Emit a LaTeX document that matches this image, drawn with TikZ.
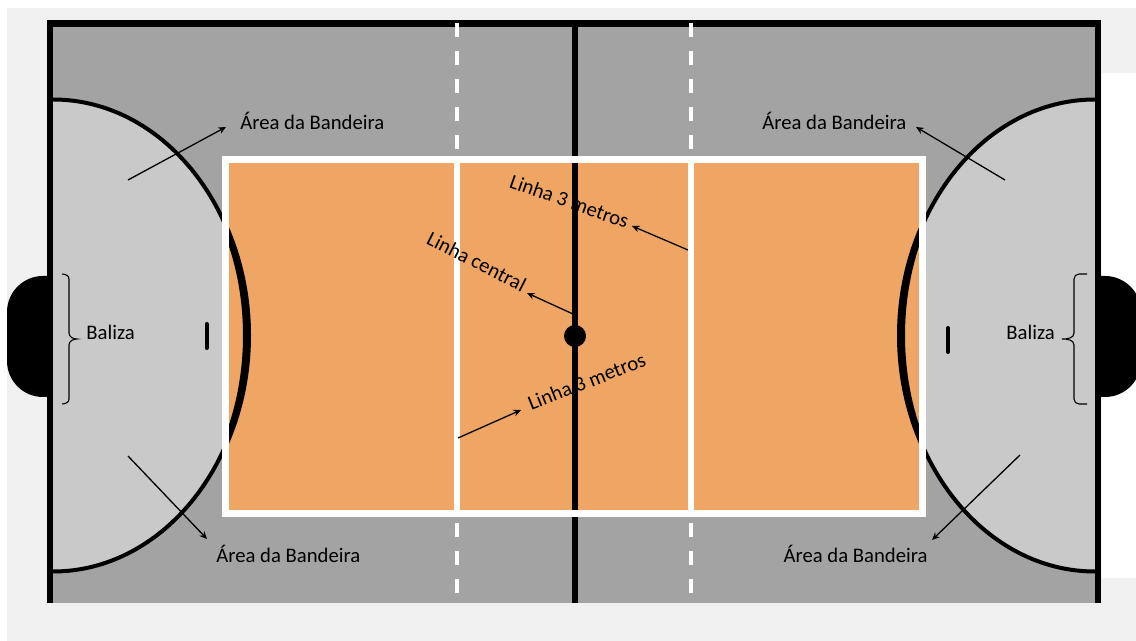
\documentclass[tikz,border=0pt]{standalone}
\usepackage{fontspec}
\setmainfont{Carlito}
\usetikzlibrary{arrows.meta}
\definecolor{bgl}{HTML}{F0F0F0}
\definecolor{court}{HTML}{A3A3A3}
\definecolor{dzone}{HTML}{C9C9C9}
\definecolor{orng}{RGB}{239,165,100}
\begin{document}
\begin{tikzpicture}[x=0.5pt,y=-0.5pt,
  lbl/.style={font=\fontsize{10.35pt}{12pt}\selectfont, inner sep=0pt, text=black},
  pointer/.style={line width=0.65pt, -{Stealth[length=3.8pt,width=3.4pt]}},
  bracepath/.style={line width=0.55pt},
  dashline/.style={white, line width=1.65pt, dash pattern=on 7pt off 7pt},
  dzoneline/.style={fill=dzone, draw=black, line width=2pt},
]
\useasboundingbox (0,0) rectangle (1136,641);
\clip (0,0) rectangle (1136,641);
\fill[white] (0,0) rectangle (1136,641);
\fill[bgl] (7,8) rectangle (1136,641);
\fill[white] (1102,73) rectangle (1136,578);
% goals
\fill[black, rounded corners=18pt] (7,276) rectangle (95,397);
\fill[black, rounded corners=18pt] (1053,276) rectangle (1141,397);
% court
\fill[court] (50,23) rectangle (1098,603);
\begin{scope}
  \clip (53,27) rectangle (1095,603);
  \filldraw[dzoneline] (53,335.5) ellipse [x radius=97.5pt, y radius=118pt];
  \filldraw[dzoneline] (1095,335.5) ellipse [x radius=97.5pt, y radius=118pt];
\end{scope}
% orange playing area
\fill[orng] (225.5,159.5) rectangle (922.5,513.5);
% centre line
\draw[black, line width=3pt] (575,23) -- (575,603);
% crescents inside orange area
\begin{scope}
  \clip (229,163) rectangle (919,510);
  \fill[black, even odd rule] (53,335.5) ellipse [x radius=99pt, y radius=118pt]
                              (53,335.5) ellipse [x radius=95pt, y radius=118pt];
  \fill[black, even odd rule] (1095,335.5) ellipse [x radius=99pt, y radius=118pt]
                              (1095,335.5) ellipse [x radius=95pt, y radius=118pt];
\end{scope}
% white lines
\draw[white, line width=3.25pt] (225.5,159.5) rectangle (922.5,513.5);
\draw[white, line width=3pt] (457,159.5) -- (457,513.5);
\draw[white, line width=3pt] (691,159.5) -- (691,513.5);
% border
\draw[black, line width=3.25pt, line join=miter] (50,603) -- (50,23.5) -- (1098,23.5) -- (1098,603);
% dashed lines
\draw[dashline] (457,23) -- (457,150);
\draw[dashline] (691,23) -- (691,150);
\draw[dashline] (457,523) -- (457,603);
\draw[dashline] (691,523) -- (691,603);
% penalty marks
\draw[black, line width=2pt, line cap=round] (206.5,324) -- (206.5,348);
\draw[black, line width=2pt, line cap=round] (948,328) -- (948,352);
% centre spot
\fill[black] (575,336) circle [radius=5.5pt];
% braces
\draw[bracepath] (62,274) to[out=0,in=90] (69,279) -- (69,333) to[out=-90,in=180] (77,339)
                 to[out=180,in=90] (69,345) -- (69,399) to[out=-90,in=0] (62,404);
\draw[bracepath] (1087,274) -- (1079,274) to[out=180,in=90] (1074,279) -- (1074,333)
                 to[out=-90,in=0] (1062,339) to[out=0,in=90] (1074,345) -- (1074,399)
                 to[out=-90,in=180] (1079,404) -- (1087,404);
% labels
\node[lbl, anchor=base west] (a1) at (240,130) {Área da Bandeira};
\node[lbl, anchor=base west] (a2) at (762,130) {Área da Bandeira};
\node[lbl, anchor=base west] (a3) at (216,563) {Área da Bandeira};
\node[lbl, anchor=base east] (a4) at (928,563) {Área da Bandeira};
\node[lbl, anchor=base west] (b1) at (86,339.5) {Baliza};
\node[lbl, anchor=base west] (b2) at (1006,339.5) {Baliza};
\node[lbl, anchor=base west, rotate=-19.5] (m1) at (508,187) {Linha 3 metros};
\node[lbl, anchor=base west, rotate=-27] (c1) at (425,243) {Linha central};
\node[lbl, anchor=base west, rotate=21.5] (m2) at (531,411) {Linha 3 metros};
% arrow end points
\coordinate (t1) at (128,180);  \coordinate (h1) at (226,127);
\coordinate (t2) at (1005,180); \coordinate (h2) at (916,127);
\coordinate (t3) at (128,456);  \coordinate (h3) at (207,539);
\coordinate (t4) at (1020,455); \coordinate (h4) at (932,540);
\coordinate (t5) at (688,250);  \coordinate (h5) at (632,226);
\coordinate (t6) at (573,314);  \coordinate (h6) at (527,293);
\coordinate (t7) at (458,438);  \coordinate (h7) at (521,410);
\draw[pointer] (t1) -- (h1);
\draw[pointer] (t2) -- (h2);
\draw[pointer] (t3) -- (h3);
\draw[pointer] (t4) -- (h4);
\draw[pointer] (t5) -- (h5);
\draw[pointer] (t6) -- (h6);
\draw[pointer] (t7) -- (h7);
\end{tikzpicture}
\end{document}
